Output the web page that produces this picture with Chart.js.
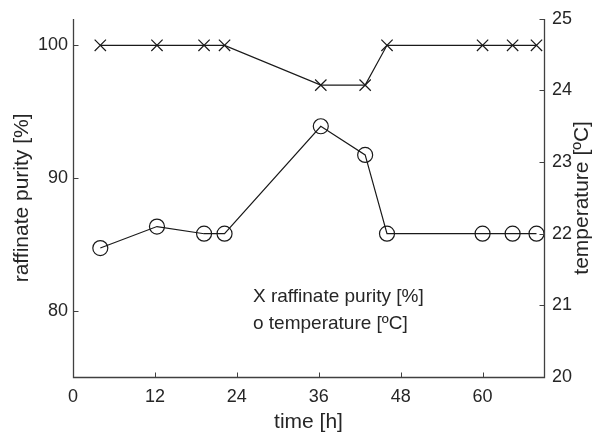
<!DOCTYPE html>
<html>
<head>
<meta charset="utf-8">
<style>
  html, body { margin: 0; padding: 0; background: #fff; }
  #wrap { width: 599px; height: 433px; }
</style>
<script src="https://cdn.jsdelivr.net/npm/chart.js@4/dist/chart.umd.min.js"></script>
</head>
<body>
<div id="wrap"><canvas id="purityChart" width="599" height="433"></canvas></div>
<script>
// run time of each sample [h]
const hours = [4, 12.3, 19.2, 22.2, 36.3, 42.8, 46, 60, 64.4, 67.9];
// raffinate purity [%]
const purity = [100, 100, 100, 100, 97, 97, 100, 100, 100, 100];
// temperature [ºC]
const temperature = [21.8, 22.1, 22, 22, 23.5, 23.1, 22, 22, 22, 22];

const hourTicks = [0, 12, 24, 36, 48, 60];
const purityTicks = [80, 90, 100];
const tempTicks = [20, 21, 22, 23, 24, 25];

const FONT = '"Liberation Sans", Arial, Helvetica, sans-serif';
const TEXT = '#262626';
const AXIS = '#404040';
const LINE = '#1a1a1a';

const toPoints = (ys) => hours.map((h, i) => ({ x: h, y: ys[i] }));
const fixTicks = (list) => (scale) => { scale.ticks = list.map(v => ({ value: v })); };

// axis lines with inward tick marks, axis titles and the text key
const decorations = {
  id: 'decorations',
  afterDraw(chart) {
    const ctx = chart.ctx;
    const area = chart.chartArea;
    const { x, y, y1 } = chart.scales;
    const len = 5;
    const left = Math.round(area.left) + 0.5;
    const right = Math.round(area.right) + 0.5;
    const bottom = Math.round(area.bottom) + 0.5;
    const top = Math.round(area.top);
    ctx.save();
    ctx.strokeStyle = AXIS;
    ctx.lineWidth = 1.3;
    ctx.beginPath();
    ctx.moveTo(left, top);
    ctx.lineTo(left, bottom);
    ctx.lineTo(right, bottom);
    ctx.lineTo(right, top);
    ctx.stroke();

    ctx.lineWidth = 1;
    ctx.beginPath();
    hourTicks.forEach(v => {
      const px = Math.round(x.getPixelForValue(v)) + 0.5;
      ctx.moveTo(px, bottom);
      ctx.lineTo(px, bottom - len);
    });
    purityTicks.forEach(v => {
      const py = Math.round(y.getPixelForValue(v)) + 0.5;
      ctx.moveTo(left, py);
      ctx.lineTo(left + len, py);
    });
    tempTicks.forEach(v => {
      const py = Math.round(y1.getPixelForValue(v)) + 0.5;
      ctx.moveTo(right, py);
      ctx.lineTo(right - len, py);
    });
    ctx.stroke();

    ctx.fillStyle = TEXT;
    ctx.font = '21px ' + FONT;
    ctx.textAlign = 'center';
    ctx.textBaseline = 'middle';
    const midY = (area.top + area.bottom) / 2;
    ctx.fillText('time [h]', (area.left + area.right) / 2, 422);

    ctx.save();
    ctx.translate(22, midY);
    ctx.rotate(-Math.PI / 2);
    ctx.fillText('raffinate purity [%]', 0, 0);
    ctx.restore();

    ctx.save();
    ctx.translate(582, midY);
    ctx.rotate(-Math.PI / 2);
    ctx.fillText('temperature [ºC]', 0, 0);
    ctx.restore();

    ctx.font = '19px ' + FONT;
    ctx.textAlign = 'left';
    ctx.fillText('X raffinate purity [%]', 253, 297);
    ctx.fillText('o temperature [ºC]', 253, 324);
    ctx.restore();
  }
};

const axisLook = {
  grid: { display: false, drawTicks: false },
  border: { display: false }
};

new Chart(document.getElementById('purityChart'), {
  type: 'scatter',
  data: {
    datasets: [
      {
        label: 'raffinate purity [%]',
        data: toPoints(purity),
        yAxisID: 'y',
        showLine: true,
        borderColor: LINE,
        borderWidth: 1.2,
        pointStyle: 'crossRot',
        pointRadius: 8,
        pointBorderWidth: 1.2,
        pointBorderColor: LINE,
        pointBackgroundColor: 'transparent'
      },
      {
        label: 'temperature [ºC]',
        data: toPoints(temperature),
        yAxisID: 'y1',
        showLine: true,
        borderColor: LINE,
        borderWidth: 1.2,
        pointStyle: 'circle',
        pointRadius: 7.5,
        pointBorderWidth: 1.2,
        pointBorderColor: LINE,
        pointBackgroundColor: 'transparent'
      }
    ]
  },
  options: {
    responsive: false,
    animation: false,
    devicePixelRatio: 1,
    layout: { padding: { top: 16, left: 0, right: 0, bottom: 0 } },
    plugins: {
      legend: { display: false },
      tooltip: { enabled: false }
    },
    scales: {
      x: {
        ...axisLook,
        type: 'linear',
        position: 'bottom',
        min: 0,
        max: 69,
        afterBuildTicks: fixTicks(hourTicks),
        afterFit: (s) => { s.height = 56; },
        ticks: { color: TEXT, font: { family: FONT, size: 18 }, padding: 9, maxRotation: 0 }
      },
      y: {
        ...axisLook,
        type: 'linear',
        position: 'left',
        min: 75,
        max: 102,
        afterBuildTicks: fixTicks(purityTicks),
        afterFit: (s) => { s.width = 73; },
        ticks: { color: TEXT, font: { family: FONT, size: 18 }, padding: 5 }
      },
      y1: {
        ...axisLook,
        type: 'linear',
        position: 'right',
        min: 20,
        max: 25,
        afterBuildTicks: fixTicks(tempTicks),
        afterFit: (s) => { s.width = 55; },
        ticks: { color: TEXT, font: { family: FONT, size: 18 }, padding: 8 }
      }
    }
  },
  plugins: [decorations]
});
</script>
</body>
</html>
